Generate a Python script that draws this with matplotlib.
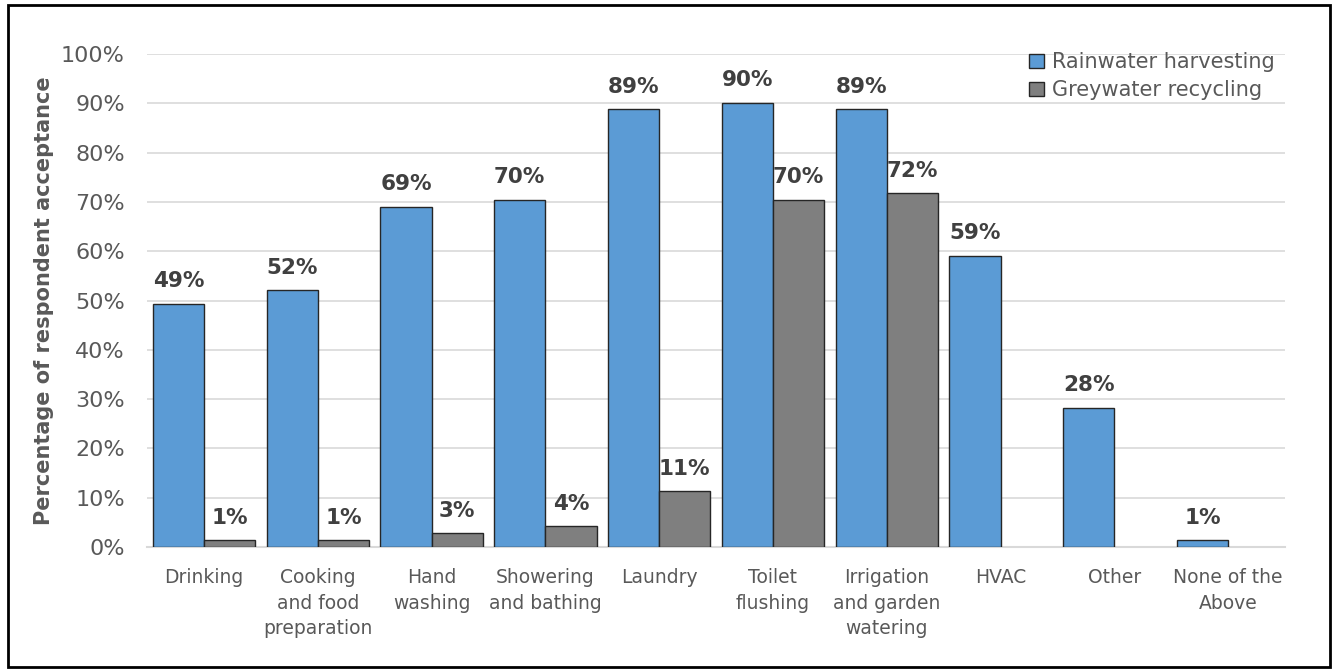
import numpy as np
import matplotlib
matplotlib.use('Agg')
import matplotlib.pyplot as plt
from matplotlib.patches import Rectangle

categories = ['Drinking', 'Cooking\nand food\npreparation', 'Hand\nwashing',
              'Showering\nand bathing', 'Laundry', 'Toilet\nflushing',
              'Irrigation\nand garden\nwatering', 'HVAC', 'Other', 'None of the\nAbove']
rainwater = [49.3, 52.1, 69.0, 70.4, 88.8, 90.1, 88.8, 59.1, 28.2, 1.4]
greywater = [1.4, 1.4, 2.8, 4.2, 11.3, 70.4, 71.8, None, None, None]

plt.rcParams['font.family'] = ['DejaVu Sans']

fig = plt.figure(figsize=(13.38, 6.71), dpi=100)
ax = fig.add_axes([0.1099, 0.1848, 0.8505, 0.7347])

# outer frame around the whole picture
fig.patches.append(Rectangle((0.006, 0.006), 0.988, 0.986, transform=fig.transFigure,
                             fill=False, edgecolor='black', linewidth=2))

x = np.arange(len(categories))
w = 0.45
blue = '#5B9BD5'
grey = '#7F7F7F'
label_col = '#404040'

g_vals = [v if v is not None else 0 for v in greywater]
b1 = ax.bar(x - w / 2, rainwater, w, color=blue, edgecolor='#262626', linewidth=1,
            label='Rainwater harvesting', zorder=3)
b2 = ax.bar(x + w / 2, g_vals, w, color=grey, edgecolor='#262626', linewidth=1,
            label='Greywater recycling', zorder=3)
# no greywater bars where there is no value
for bar, v in zip(b2, greywater):
    if v is None:
        bar.set_visible(False)

for xi, v in zip(x, rainwater):
    ax.annotate(f'{round(v)}%', (xi - w / 2, v), xytext=(0, 9), textcoords='offset points',
                ha='center', va='bottom', fontsize=15.5, fontweight='bold', color=label_col)
for xi, v in zip(x, greywater):
    if v is None:
        continue
    ax.annotate(f'{round(v)}%', (xi + w / 2, v), xytext=(0, 9), textcoords='offset points',
                ha='center', va='bottom', fontsize=15.5, fontweight='bold', color=label_col)

ax.set_xlim(-0.5, len(categories) - 0.5)
ax.set_ylim(0, 100)
ax.set_yticks(np.arange(0, 101, 10))
ax.set_yticklabels([f'{t}%' for t in range(0, 101, 10)])
ax.set_xticks(x)
ax.set_xticklabels(categories, fontsize=13.5, color='#595959', linespacing=1.45, va='top')
ax.tick_params(axis='y', labelsize=16, colors='#595959', length=0, pad=16)
ax.tick_params(axis='x', length=0, pad=15)
ax.grid(axis='y', color='#D9D9D9', linewidth=1.2, zorder=0)
ax.set_axisbelow(True)
for s in ['top', 'right', 'left']:
    ax.spines[s].set_visible(False)
ax.spines['bottom'].set_color('#D9D9D9')
ax.spines['bottom'].set_linewidth(1.5)

ax.set_ylabel('Percentage of respondent acceptance', fontsize=15, fontweight='bold',
              color='#595959', labelpad=5)

ax.legend(loc='upper right', bbox_to_anchor=(1.0, 1.025), frameon=False, fontsize=15,
          labelcolor='#595959', handlelength=0.7, handleheight=0.7, handletextpad=0.4,
          labelspacing=0.4, borderpad=0)

plt.savefig('out.png', dpi=100)
